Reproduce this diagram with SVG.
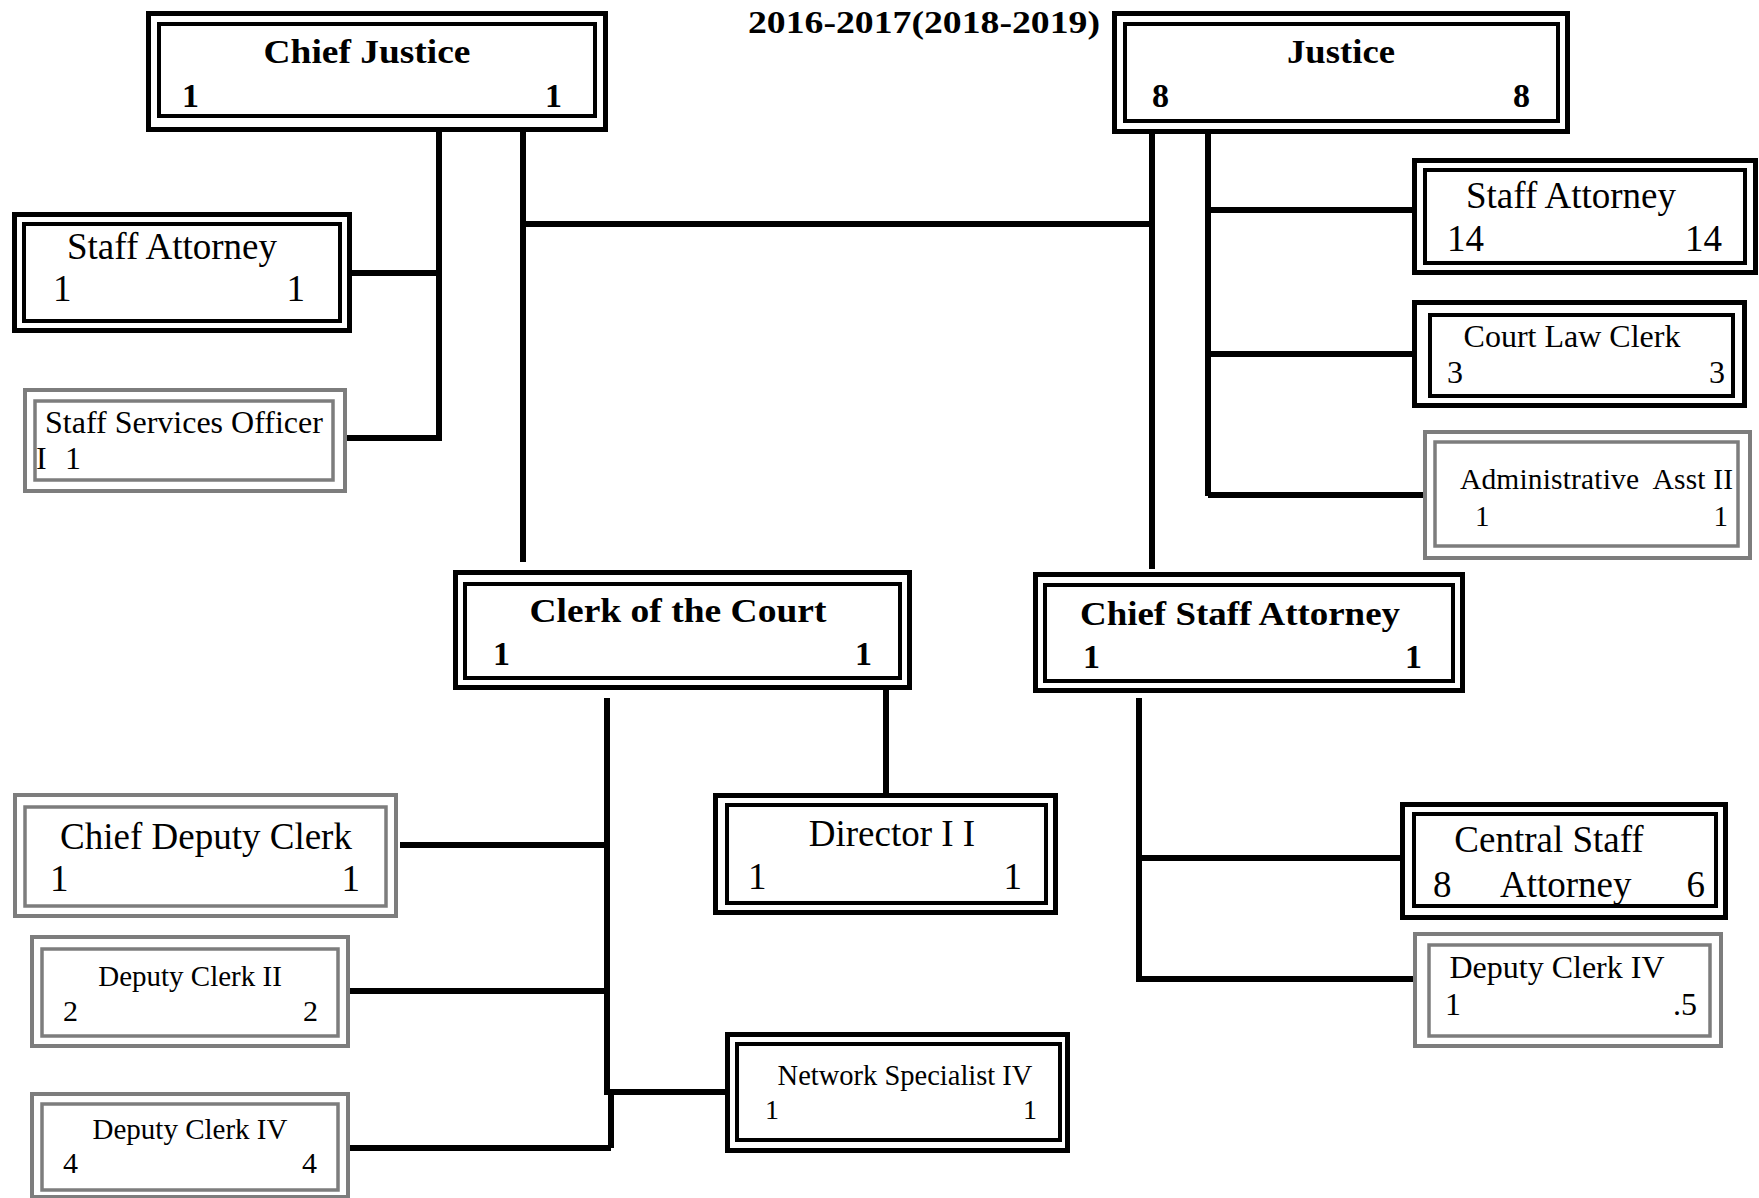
<svg xmlns="http://www.w3.org/2000/svg" width="1759" height="1198" viewBox="0 0 1759 1198">
<style>
text{font-family:"Liberation Serif","Times New Roman",serif;fill:#000}
.b{font-weight:bold}
.ob{fill:none;stroke:#000;stroke-width:5}
.ib{fill:none;stroke:#000;stroke-width:4}
.og{fill:none;stroke:#7d7d7d;stroke-width:4}
.ig{fill:none;stroke:#7d7d7d;stroke-width:3.5}
.ln{fill:none;stroke:#000;stroke-width:6}
.m{text-anchor:middle}
.e{text-anchor:end}
</style>
<rect width="1759" height="1198" fill="#fff"/>
<text class="b" x="748" y="33" font-size="31" textLength="352" lengthAdjust="spacingAndGlyphs">2016-2017(2018-2019)</text>
<g id="connectors">
<path class="ln" d="M439 132V441M352 273H439M347 438H439"/>
<path class="ln" d="M523 132V562M523 224H1152"/>
<path class="ln" d="M1152 134V569M1208 134V496M1208 210H1412M1208 354H1414M1208 495H1425"/>
<path class="ln" d="M886 690V795"/>
<path class="ln" d="M607 698V1092M400 845H607M350 991H607M604 1092H727M611 1092V1148M350 1148H611"/>
<path class="ln" d="M1139 698V982M1139 858H1402M1139 979H1415"/>
</g>
<g id="chief-justice">
<rect class="ob" x="148.5" y="13.5" width="457" height="116"/>
<rect class="ib" x="159" y="24" width="436" height="92"/>
<text class="b m" x="367" y="63" font-size="33" textLength="207" lengthAdjust="spacingAndGlyphs">Chief Justice</text>
<text class="b" x="182" y="107" font-size="34">1</text>
<text class="b e" x="562" y="107" font-size="34">1</text>
</g>
<g id="justice">
<rect class="ob" x="1114.5" y="13.5" width="453" height="118"/>
<rect class="ib" x="1125" y="24" width="433" height="97"/>
<text class="b m" x="1341" y="63" font-size="33" textLength="108" lengthAdjust="spacingAndGlyphs">Justice</text>
<text class="b" x="1152" y="107" font-size="34">8</text>
<text class="b e" x="1530" y="107" font-size="34">8</text>
</g>
<g id="staff-attorney-left">
<rect class="ob" x="14.5" y="214.5" width="335" height="116"/>
<rect class="ib" x="24" y="224" width="316" height="97"/>
<text class="m" x="172" y="259" font-size="37">Staff Attorney</text>
<text x="53" y="301" font-size="37">1</text>
<text class="e" x="305" y="301" font-size="37">1</text>
</g>
<g id="staff-services-officer">
<rect class="og" x="25" y="390" width="320" height="101"/>
<rect class="ig" x="35" y="401" width="298" height="79"/>
<text x="45" y="433" font-size="32">Staff Services Officer</text>
<text x="36" y="469" font-size="32">I</text>
<text x="65" y="469" font-size="32">1</text>
</g>
<g id="staff-attorney-right">
<rect class="ob" x="1414.5" y="160.5" width="341" height="112"/>
<rect class="ib" x="1425" y="170" width="320" height="93"/>
<text class="m" x="1571" y="208" font-size="37">Staff Attorney</text>
<text x="1447" y="251" font-size="37">14</text>
<text class="e" x="1722" y="251" font-size="37">14</text>
</g>
<g id="court-law-clerk">
<rect class="ob" x="1414.5" y="302.5" width="330" height="103"/>
<rect class="ib" x="1430" y="315" width="303" height="81"/>
<text class="m" x="1572" y="347" font-size="32">Court Law Clerk</text>
<text x="1447" y="383" font-size="32">3</text>
<text class="e" x="1725" y="383" font-size="32">3</text>
</g>
<g id="administrative-asst-ii">
<rect class="og" x="1425" y="432" width="325" height="126"/>
<rect class="ig" x="1435" y="442" width="303" height="104"/>
<text x="1460" y="489" font-size="29.5" style="white-space:pre" textLength="273">Administrative  Asst II</text>
<text x="1475" y="526" font-size="29">1</text>
<text class="e" x="1728" y="526" font-size="29">1</text>
</g>
<g id="clerk-of-the-court">
<rect class="ob" x="455.5" y="572.5" width="454" height="115"/>
<rect class="ib" x="465" y="584" width="435" height="94"/>
<text class="b m" x="678" y="622" font-size="33" textLength="297" lengthAdjust="spacingAndGlyphs">Clerk of the Court</text>
<text class="b" x="493" y="665" font-size="34">1</text>
<text class="b e" x="872" y="665" font-size="34">1</text>
</g>
<g id="chief-staff-attorney">
<rect class="ob" x="1035.5" y="574.5" width="427" height="116"/>
<rect class="ib" x="1045" y="585" width="408" height="96"/>
<text class="b m" x="1240" y="625" font-size="33" textLength="320" lengthAdjust="spacingAndGlyphs">Chief Staff Attorney</text>
<text class="b" x="1083" y="668" font-size="34">1</text>
<text class="b e" x="1422" y="668" font-size="34">1</text>
</g>
<g id="chief-deputy-clerk">
<rect class="og" x="15" y="795" width="381" height="121"/>
<rect class="ig" x="25" y="807" width="361" height="99"/>
<text class="m" x="206" y="849" font-size="37">Chief Deputy Clerk</text>
<text x="50" y="891" font-size="37">1</text>
<text class="e" x="360" y="891" font-size="37">1</text>
</g>
<g id="deputy-clerk-ii">
<rect class="og" x="32" y="937" width="316" height="109"/>
<rect class="ig" x="42" y="949" width="296" height="87"/>
<text class="m" x="190" y="986" font-size="29">Deputy Clerk II</text>
<text x="63" y="1021" font-size="30">2</text>
<text class="e" x="318" y="1021" font-size="30">2</text>
</g>
<g id="deputy-clerk-iv-left">
<rect class="og" x="32" y="1094" width="316" height="103"/>
<rect class="ig" x="42" y="1104" width="296" height="86"/>
<text class="m" x="190" y="1139" font-size="29">Deputy Clerk IV</text>
<text x="63" y="1173" font-size="30">4</text>
<text class="e" x="317" y="1173" font-size="30">4</text>
</g>
<g id="director-ii">
<rect class="ob" x="715.5" y="795.5" width="340" height="117"/>
<rect class="ib" x="727" y="805" width="319" height="98"/>
<text class="m" x="892" y="846" font-size="37">Director I I</text>
<text x="748" y="889" font-size="37">1</text>
<text class="e" x="1022" y="889" font-size="37">1</text>
</g>
<g id="network-specialist-iv">
<rect class="ob" x="727.5" y="1034.5" width="340" height="116"/>
<rect class="ib" x="737" y="1044" width="323" height="96"/>
<text class="m" x="905" y="1085" font-size="28.5">Network Specialist IV</text>
<text x="765" y="1119" font-size="28">1</text>
<text class="e" x="1037" y="1119" font-size="28">1</text>
</g>
<g id="central-staff-attorney">
<rect class="ob" x="1402.5" y="804.5" width="323" height="113"/>
<rect class="ib" x="1414" y="814" width="302" height="92"/>
<text class="m" x="1549" y="852" font-size="37">Central Staff</text>
<text x="1433" y="897" font-size="37">8</text>
<text x="1500" y="897" font-size="37">Attorney</text>
<text class="e" x="1705" y="897" font-size="37">6</text>
</g>
<g id="deputy-clerk-iv-right">
<rect class="og" x="1415" y="934" width="306" height="112"/>
<rect class="ig" x="1429" y="945" width="281" height="91"/>
<text class="m" x="1557" y="978" font-size="32">Deputy Clerk IV</text>
<text x="1445" y="1015" font-size="32">1</text>
<text class="e" x="1697" y="1015" font-size="32">.5</text>
</g>
</svg>
